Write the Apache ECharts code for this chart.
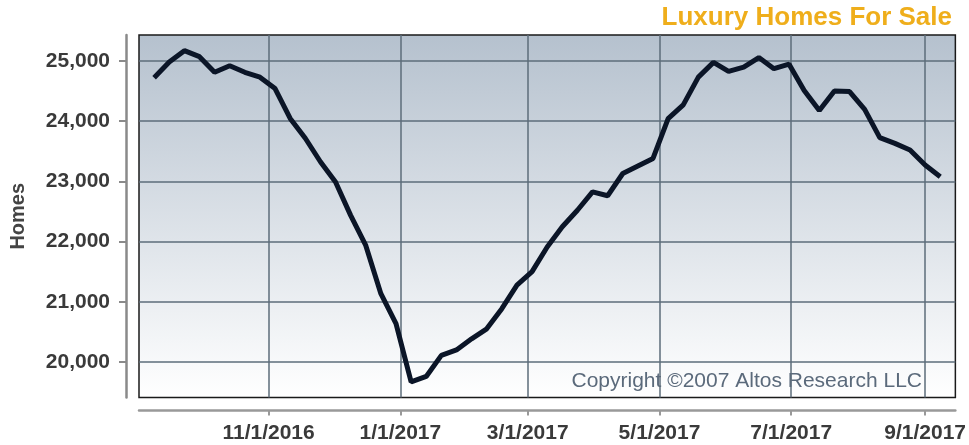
<!DOCTYPE html>
<html>
<head>
<meta charset="utf-8">
<script src="https://cdn.jsdelivr.net/npm/echarts@6/dist/echarts.min.js"></script>
<style>
  html, body { margin: 0; padding: 0; background: #fff; }
  #chart { width: 969px; height: 445px; }
</style>
</head>
<body>
<div id="chart"></div>
<script>
// weekly readings
var weeks = [
  '2016-09-09', '2016-09-16', '2016-09-23', '2016-09-30', '2016-10-07', '2016-10-14',
  '2016-10-21', '2016-10-28', '2016-11-04', '2016-11-11', '2016-11-18', '2016-11-25',
  '2016-12-02', '2016-12-09', '2016-12-16', '2016-12-23', '2016-12-30', '2017-01-06',
  '2017-01-13', '2017-01-20', '2017-01-27', '2017-02-03', '2017-02-10', '2017-02-17',
  '2017-02-24', '2017-03-03', '2017-03-10', '2017-03-17', '2017-03-24', '2017-03-31',
  '2017-04-07', '2017-04-14', '2017-04-21', '2017-04-28', '2017-05-05', '2017-05-12',
  '2017-05-19', '2017-05-26', '2017-06-02', '2017-06-09', '2017-06-16', '2017-06-23',
  '2017-06-30', '2017-07-07', '2017-07-14', '2017-07-21', '2017-07-28', '2017-08-04',
  '2017-08-11', '2017-08-18', '2017-08-25', '2017-09-01', '2017-09-08'
];
var homes = [
  24720, 24980, 25170, 25070, 24810, 24920,
  24810, 24730, 24540, 24045, 23715, 23325,
  22990, 22435, 21935, 21135, 20635, 19670,
  19760, 20110, 20200, 20385, 20550, 20885,
  21275, 21500, 21910, 22245, 22520, 22825,
  22760, 23130, 23255, 23380, 24040, 24270,
  24730, 24975, 24825, 24895, 25055, 24870,
  24945, 24510, 24175, 24500, 24490, 24195,
  23725, 23630, 23520, 23270, 23075
];
// x axis tick dates, y axis tick values
var monthTicks = ['2016-11-01', '2017-01-01', '2017-03-01', '2017-05-01', '2017-07-01', '2017-09-01'];
var homeTicks = [20000, 21000, 22000, 23000, 24000, 25000];

function toTime(s) {
  var p = s.split('-');
  return new Date(+p[0], +p[1] - 1, +p[2]).getTime();
}

var chart = echarts.init(document.getElementById('chart'));
var labelFont = 'Liberation Sans, Arial, sans-serif';
var tickTimes = monthTicks.map(toTime);

var option = {
  animation: false,
  title: {
    text: 'Luxury Homes For Sale',
    right: 17,
    top: 5,
    padding: 0,
    textStyle: { color: '#efae1b', fontSize: 26, fontWeight: 'bold', fontFamily: labelFont }
  },
  grid: {
    left: 139,
    right: 11,
    top: 35,
    bottom: 47.5,
    show: true,
    borderColor: '#1a1a1a',
    borderWidth: 1.5,
    backgroundColor: new echarts.graphic.LinearGradient(0, 0, 0, 1, [
      { offset: 0, color: '#b5c1ce' },
      { offset: 1, color: '#ffffff' }
    ])
  },
  xAxis: {
    // timestamps on a plain value axis so the ticks can sit on month starts
    type: 'value',
    min: toTime('2016-09-02'),
    max: toTime('2017-09-15'),
    offset: 13,
    axisLine: { show: true, lineStyle: { color: '#999999', width: 2.5 } },
    axisTick: { show: true, length: 5, customValues: tickTimes, lineStyle: { color: '#999999', width: 2 } },
    axisLabel: {
      customValues: tickTimes,
      margin: 12,
      color: '#3a3a3a',
      fontSize: 21,
      fontWeight: 'bold',
      fontFamily: labelFont,
      formatter: function (v) {
        var d = new Date(v);
        return (d.getMonth() + 1) + '/' + d.getDate() + '/' + d.getFullYear();
      }
    },
    splitLine: { show: true, lineStyle: { color: '#5d6c7a', width: 1.5 } }
  },
  yAxis: {
    type: 'value',
    min: 19410,
    max: 25430,
    offset: 13,
    name: 'Homes',
    nameLocation: 'middle',
    nameGap: 98,
    nameTextStyle: { color: '#444444', fontSize: 20, fontWeight: 'bold', fontFamily: labelFont },
    axisLine: { show: true, lineStyle: { color: '#8a8a8a', width: 2.5 } },
    axisTick: { show: true, length: 7, customValues: homeTicks, lineStyle: { color: '#8a8a8a', width: 2 } },
    axisLabel: {
      customValues: homeTicks,
      margin: 16,
      color: '#3a3a3a',
      fontSize: 21,
      fontWeight: 'bold',
      fontFamily: labelFont,
      formatter: function (v) {
        return String(v).replace(/\B(?=(\d{3})+(?!\d))/g, ',');
      }
    },
    splitLine: { show: true, lineStyle: { color: '#5d6c7a', width: 1.5 } }
  },
  graphic: [{
    type: 'text',
    right: 47,
    top: 371,
    style: {
      text: 'Copyright \u00a92007 Altos Research LLC',
      fill: '#5b6a7b',
      font: '21px ' + labelFont
    }
  }],
  series: [{
    type: 'line',
    data: weeks.map(function (d, i) { return [toTime(d), homes[i]]; }),
    showSymbol: false,
    lineStyle: { color: '#0b1527', width: 5 }
  }]
};

chart.setOption(option);
</script>
</body>
</html>
